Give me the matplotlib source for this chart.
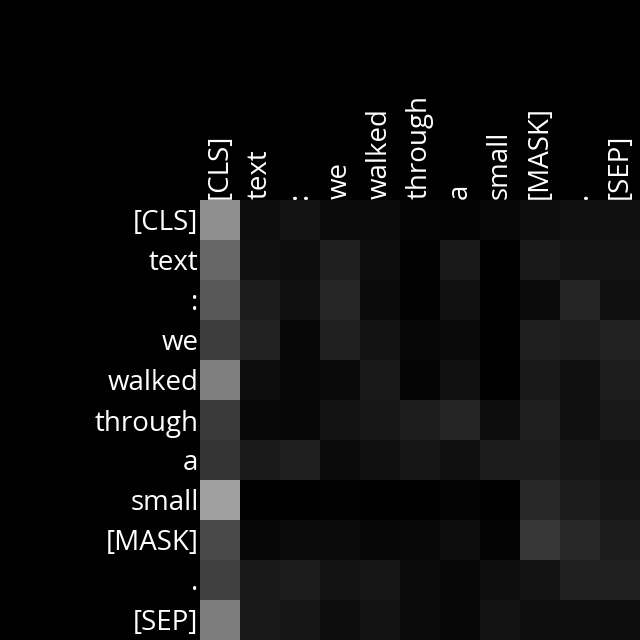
import matplotlib
matplotlib.use('Agg')
import matplotlib.pyplot as plt
import numpy as np

# 数据: token 与注意力权重 (按灰度读出, 0~1)
tokens = ['[CLS]', 'text', ':', 'we', 'walked', 'through', 'a', 'small', '[MASK]', '.', '[SEP]']

row_cls     = [0.561, 0.047, 0.075, 0.043, 0.043, 0.020, 0.012, 0.031, 0.051, 0.063, 0.063]
row_text    = [0.400, 0.063, 0.051, 0.118, 0.047, 0.008, 0.094, 0.000, 0.094, 0.078, 0.075]
row_colon   = [0.345, 0.110, 0.059, 0.149, 0.043, 0.008, 0.067, 0.000, 0.043, 0.141, 0.063]
row_we      = [0.235, 0.133, 0.027, 0.129, 0.078, 0.027, 0.039, 0.000, 0.118, 0.106, 0.133]
row_walked  = [0.494, 0.047, 0.024, 0.039, 0.098, 0.020, 0.067, 0.004, 0.094, 0.059, 0.114]
row_through = [0.227, 0.035, 0.031, 0.075, 0.090, 0.114, 0.145, 0.047, 0.118, 0.063, 0.098]
row_a       = [0.200, 0.102, 0.122, 0.043, 0.063, 0.086, 0.063, 0.106, 0.106, 0.086, 0.078]
row_small   = [0.627, 0.000, 0.000, 0.008, 0.004, 0.000, 0.016, 0.000, 0.161, 0.106, 0.086]
row_mask    = [0.290, 0.027, 0.043, 0.043, 0.031, 0.035, 0.047, 0.016, 0.212, 0.161, 0.110]
row_dot     = [0.247, 0.098, 0.110, 0.071, 0.086, 0.043, 0.027, 0.055, 0.075, 0.125, 0.125]
row_sep     = [0.490, 0.098, 0.086, 0.047, 0.071, 0.043, 0.024, 0.075, 0.055, 0.055, 0.051]

attn = np.array([row_cls, row_text, row_colon, row_we, row_walked, row_through,
                 row_a, row_small, row_mask, row_dot, row_sep])

plt.rcParams['font.family'] = ['Open Sans', 'DejaVu Sans']

fig = plt.figure(figsize=(6.4, 6.4), dpi=100, facecolor='black')
ax = fig.add_axes([200 / 640, 0, 440 / 640, 440 / 640])
ax.set_facecolor('black')

# 热力图
ax.imshow(attn, cmap='gray', vmin=0, vmax=1, aspect='auto', interpolation='nearest')

# 坐标轴标签
ax.xaxis.tick_top()
ax.set_xticks(range(len(tokens)))
ax.set_xticklabels(tokens, rotation=90, color='white', fontsize=20)
ax.set_yticks(range(len(tokens)))
ax.set_yticklabels(tokens, color='white', fontsize=20)
ax.tick_params(length=0, pad=1)

for s in ax.spines.values():
    s.set_visible(False)

plt.savefig('out.png', dpi=100, facecolor='black')
